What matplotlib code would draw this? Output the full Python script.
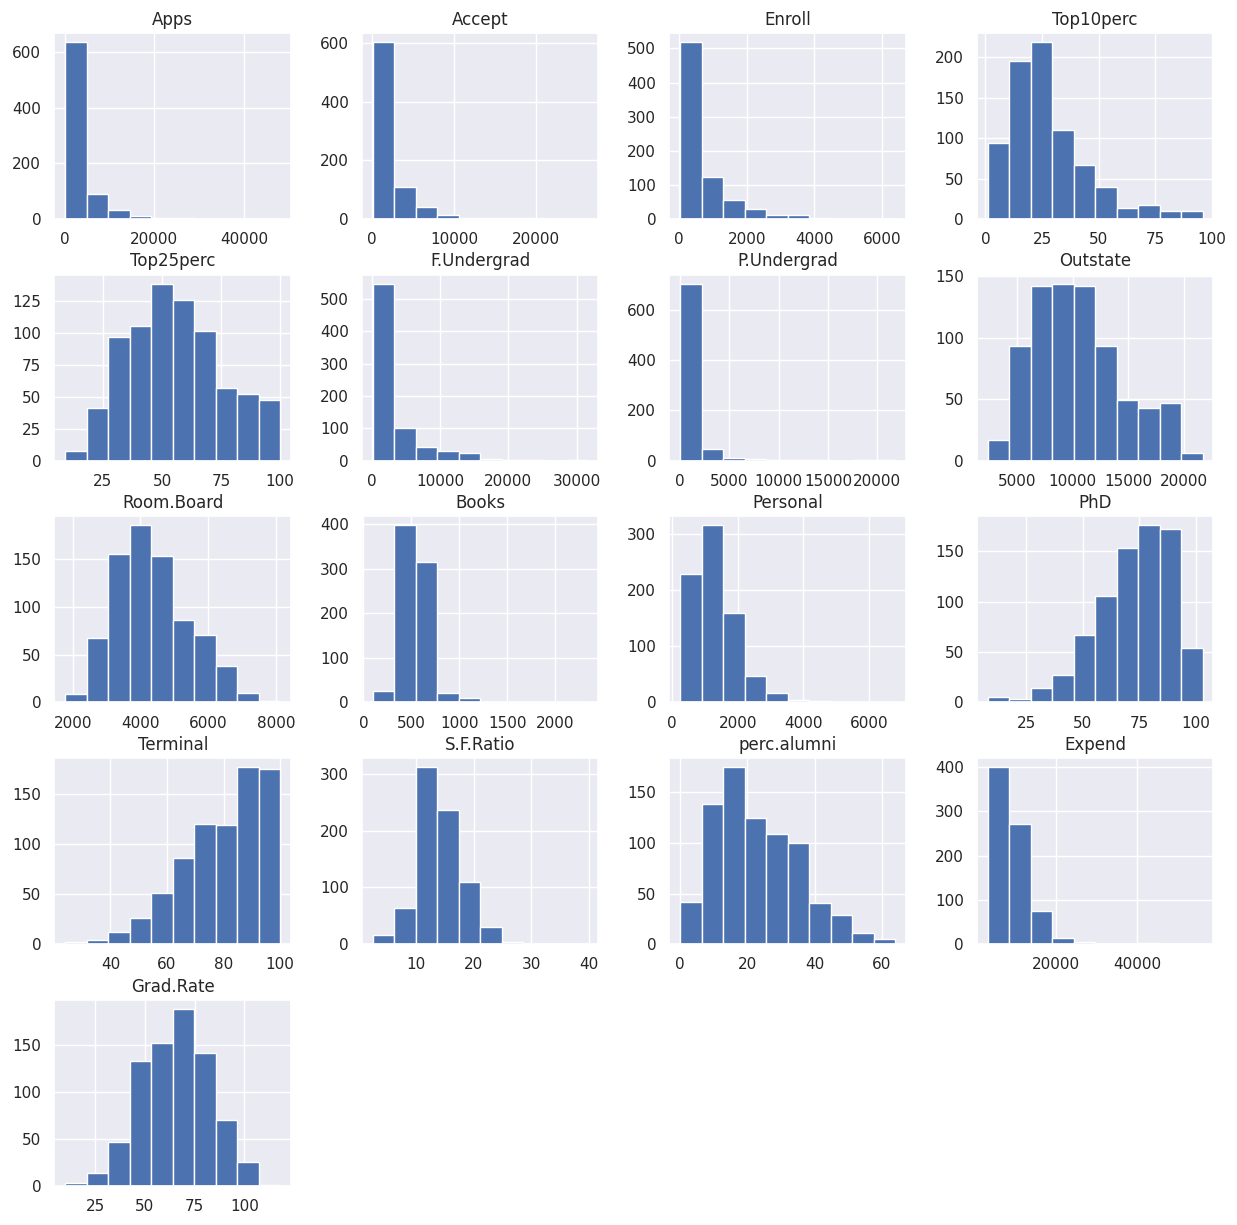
import numpy as np
import matplotlib
matplotlib.use("Agg")
import matplotlib.pyplot as plt
import seaborn as sns

sns.set_theme()

# column names, value ranges (min, max) and the 10 bin counts of each histogram
columns = ["Apps", "Accept", "Enroll", "Top10perc", "Top25perc", "F.Undergrad",
           "P.Undergrad", "Outstate", "Room.Board", "Books", "Personal", "PhD",
           "Terminal", "S.F.Ratio", "perc.alumni", "Expend", "Grad.Rate"]

ranges = [(81, 48094), (72, 26330), (35, 6392), (1, 96), (9, 100), (139, 31643),
          (1, 21836), (2340, 21700), (1780, 8124), (96, 2340), (250, 6800), (8, 103),
          (24, 100), (2.5, 39.8), (0, 64), (3186, 56233), (10, 118)]

counts_apps = [636, 88, 33, 9, 5, 3, 1, 1, 0, 1]
counts_accept = [603, 108, 40, 12, 5, 4, 2, 2, 0, 1]
counts_enroll = [519, 122, 57, 28, 13, 13, 2, 1, 0, 1]
counts_top10 = [94, 196, 219, 110, 67, 40, 13, 17, 10, 10]
counts_top25 = [8, 41, 97, 106, 139, 126, 102, 57, 52, 48]
counts_fundergrad = [547, 100, 42, 30, 24, 6, 3, 1, 0, 1]
counts_pundergrad = [704, 48, 12, 5, 3, 2, 1, 0, 1, 1]
counts_outstate = [17, 93, 142, 144, 142, 93, 49, 43, 47, 6]
counts_roomboard = [9, 67, 155, 185, 153, 86, 70, 38, 10, 1]
counts_books = [26, 398, 316, 21, 10, 2, 1, 1, 0, 2]
counts_personal = [229, 316, 159, 47, 17, 4, 3, 1, 0, 1]
counts_phd = [5, 3, 14, 27, 67, 106, 153, 176, 172, 54]
counts_terminal = [2, 4, 12, 26, 51, 86, 120, 119, 177, 175]
counts_sfratio = [16, 63, 312, 236, 110, 30, 4, 1, 0, 1]
counts_alumni = [42, 138, 175, 125, 109, 100, 41, 29, 11, 5]
counts_expend = [400, 272, 74, 14, 4, 1, 0, 2, 0, 1]
counts_gradrate = [3, 14, 46, 133, 152, 188, 141, 70, 25, 1]

all_counts = [counts_apps, counts_accept, counts_enroll, counts_top10, counts_top25,
              counts_fundergrad, counts_pundergrad, counts_outstate, counts_roomboard,
              counts_books, counts_personal, counts_phd, counts_terminal, counts_sfratio,
              counts_alumni, counts_expend, counts_gradrate]

fig, axes = plt.subplots(5, 4, figsize=(12.37, 12.25), dpi=100)
fig.subplots_adjust(left=0.044, right=0.981, top=0.973, bottom=0.032,
                    wspace=0.30, hspace=0.30)

axes = axes.ravel()
for i, name in enumerate(columns):
    ax = axes[i]
    lo, hi = ranges[i]
    edges = np.linspace(lo, hi, len(all_counts[i]) + 1)
    # one weighted sample per bin so the library draws the bars itself
    ax.hist(edges[:-1], bins=edges, weights=all_counts[i], color="#4C72B0",
            edgecolor="white", linewidth=1)
    ax.set_title(name, fontsize=12)
    ax.tick_params(labelsize=11)

for ax in axes[len(columns):]:
    ax.set_visible(False)

plt.savefig("out.png", dpi=100)
